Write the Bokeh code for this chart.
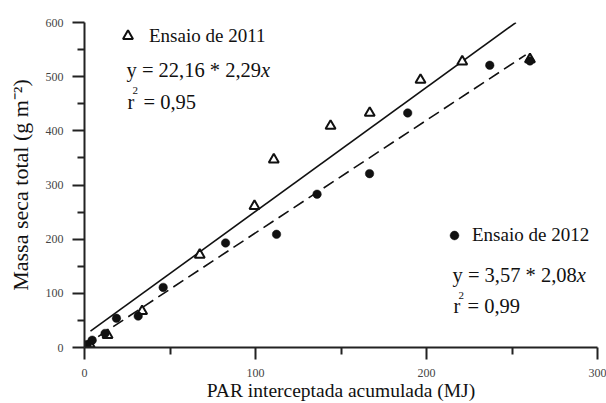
import math
from bokeh.plotting import figure
from bokeh.models import Range1d, FixedTicker, Label, Legend, LegendItem, ColumnDataSource
from bokeh.embed import file_html
from bokeh.resources import INLINE

# ---- data ----
# Ensaio de 2011 (open triangles)
par_2011 = [3.0, 13.5, 33.7, 67.4, 99.4, 110.7, 143.9, 166.8, 196.5, 220.9, 260.5]
mass_2011 = [6, 23, 67, 171, 261, 347, 409, 433, 494, 528, 532]
# Ensaio de 2012 (filled circles)
par_2012 = [1.6, 4.5, 12.0, 18.7, 31.4, 46.0, 82.5, 112.3, 136.0, 166.7, 189.0, 237.0, 260.5]
mass_2012 = [5.5, 13.5, 26, 54, 58, 111, 193, 209, 283, 321, 433, 521, 529]

# fitted lines: y = a + b*x, drawn over the given x span
fit_2011 = [22.16, 2.29]
fit_2011_span = [3.5, 252.3]
fit_2012 = [3.57, 2.08]
fit_2012_span = [8.0, 258.0]

x_ticks = [0, 100, 200, 300]
x_minor = [50, 150, 250]
y_ticks = [0, 100, 200, 300, 400, 500, 600]
y_minor = [50, 150, 250, 350, 450, 550]

legend_2011 = "Ensaio de 2011"
legend_2012 = "Ensaio de 2012"
eq_2011 = ["y = 22,16 * 2,29", "x"]
eq_2012 = ["y = 3,57 * 2,08", "x"]
r2_2011 = "= 0,95"
r2_2012 = "= 0,99"
x_title = "PAR interceptada acumulada (MJ)"
y_title = "Massa seca total (g m\u207b\u00b2)"

FONT = "Liberation Serif"
INK = "#111111"

p = figure(width=606, height=403, output_backend="svg", toolbar_location=None,
           x_range=Range1d(0, 300), y_range=Range1d(0, 600),
           min_border_left=84, min_border_right=9, min_border_top=22, min_border_bottom=55)
p.outline_line_color = None
p.grid.visible = False
p.background_fill_color = "white"

for ax, tk, mn in ((p.xaxis[0], x_ticks, x_minor), (p.yaxis[0], y_ticks, y_minor)):
    ax.ticker = FixedTicker(ticks=tk, minor_ticks=mn)
    ax.axis_line_width = 2
    ax.axis_line_color = "#222222"
    ax.major_tick_line_width = 2
    ax.major_tick_line_color = "#222222"
    ax.minor_tick_line_width = 2
    ax.minor_tick_line_color = "#222222"
    ax.major_tick_out = 12
    ax.major_tick_in = 0
    ax.minor_tick_out = 7
    ax.minor_tick_in = 0
    ax.major_label_text_font = FONT
    ax.major_label_text_font_size = "12px"
    ax.major_label_text_color = "#444444"
    ax.major_label_standoff = 9
    ax.axis_label_text_font = FONT
    ax.axis_label_text_font_style = "normal"
    ax.axis_label_text_color = INK

p.xaxis.axis_label = x_title
p.xaxis.axis_label_text_font_size = "19.5px"
p.xaxis.axis_label_standoff = 0
p.yaxis.axis_label = y_title
p.yaxis.axis_label_text_font_size = "22px"
p.yaxis.axis_label_standoff = 10

# regression lines
def fit_src(coef, span):
    return ColumnDataSource(dict(x=span, y=[coef[0] + coef[1] * v for v in span]))

p.line("x", "y", source=fit_src(fit_2011, fit_2011_span), line_color=INK, line_width=1.6)
p.line("x", "y", source=fit_src(fit_2012, fit_2012_span), line_color=INK, line_width=1.6,
       line_dash="12 6")

r_tri = p.scatter(par_2011, mass_2011, marker="triangle", size=10, fill_color="white",
                  line_color=INK, line_width=2)
r_cir = p.scatter(par_2012, mass_2012, marker="circle", size=8.5, fill_color=INK,
                  line_color=INK, line_width=0.5)

def make_legend(label, rend, loc, glyph, standoff):
    lg = Legend(items=[LegendItem(label=label, renderers=[rend])], location=loc,
                glyph_width=glyph, glyph_height=glyph, label_standoff=standoff,
                padding=0, margin=0, spacing=0, border_line_color=None,
                background_fill_alpha=0, label_text_font=FONT,
                label_text_font_size="19px", label_text_color=INK)
    p.add_layout(lg)

make_legend(legend_2011, r_tri, (31, 299), 25, 9)
make_legend(legend_2012, r_cir, (359, 101), 22, 7)

def lab(x, y, text, size, style="normal"):
    p.add_layout(Label(x=x, y=y, x_units="screen", y_units="screen", text=text,
                       text_font=FONT, text_font_size=size, text_font_style=style,
                       text_color=INK, text_baseline="alphabetic", text_align="left"))

EQ = 20.5
# Times metrics (em) of the upright part of each equation
w2011 = 6.564 * EQ
w2012 = 6.064 * EQ
lab(42, 278, eq_2011[0], f"{EQ}px")
lab(42 + w2011, 278, eq_2011[1], f"{EQ}px", "italic")
lab(43, 246, "r", f"{EQ}px")
lab(48, 257, "2", "11px")
lab(59, 246, r2_2011, f"{EQ}px")

lab(368, 73, eq_2012[0], f"{EQ}px")
lab(368 + w2012, 73, eq_2012[1], f"{EQ}px", "italic")
lab(369, 42, "r", f"{EQ}px")
lab(374, 52, "2", "11px")
lab(383, 42, r2_2012, f"{EQ}px")

open("out.html", "w").write(file_html(p, INLINE))
